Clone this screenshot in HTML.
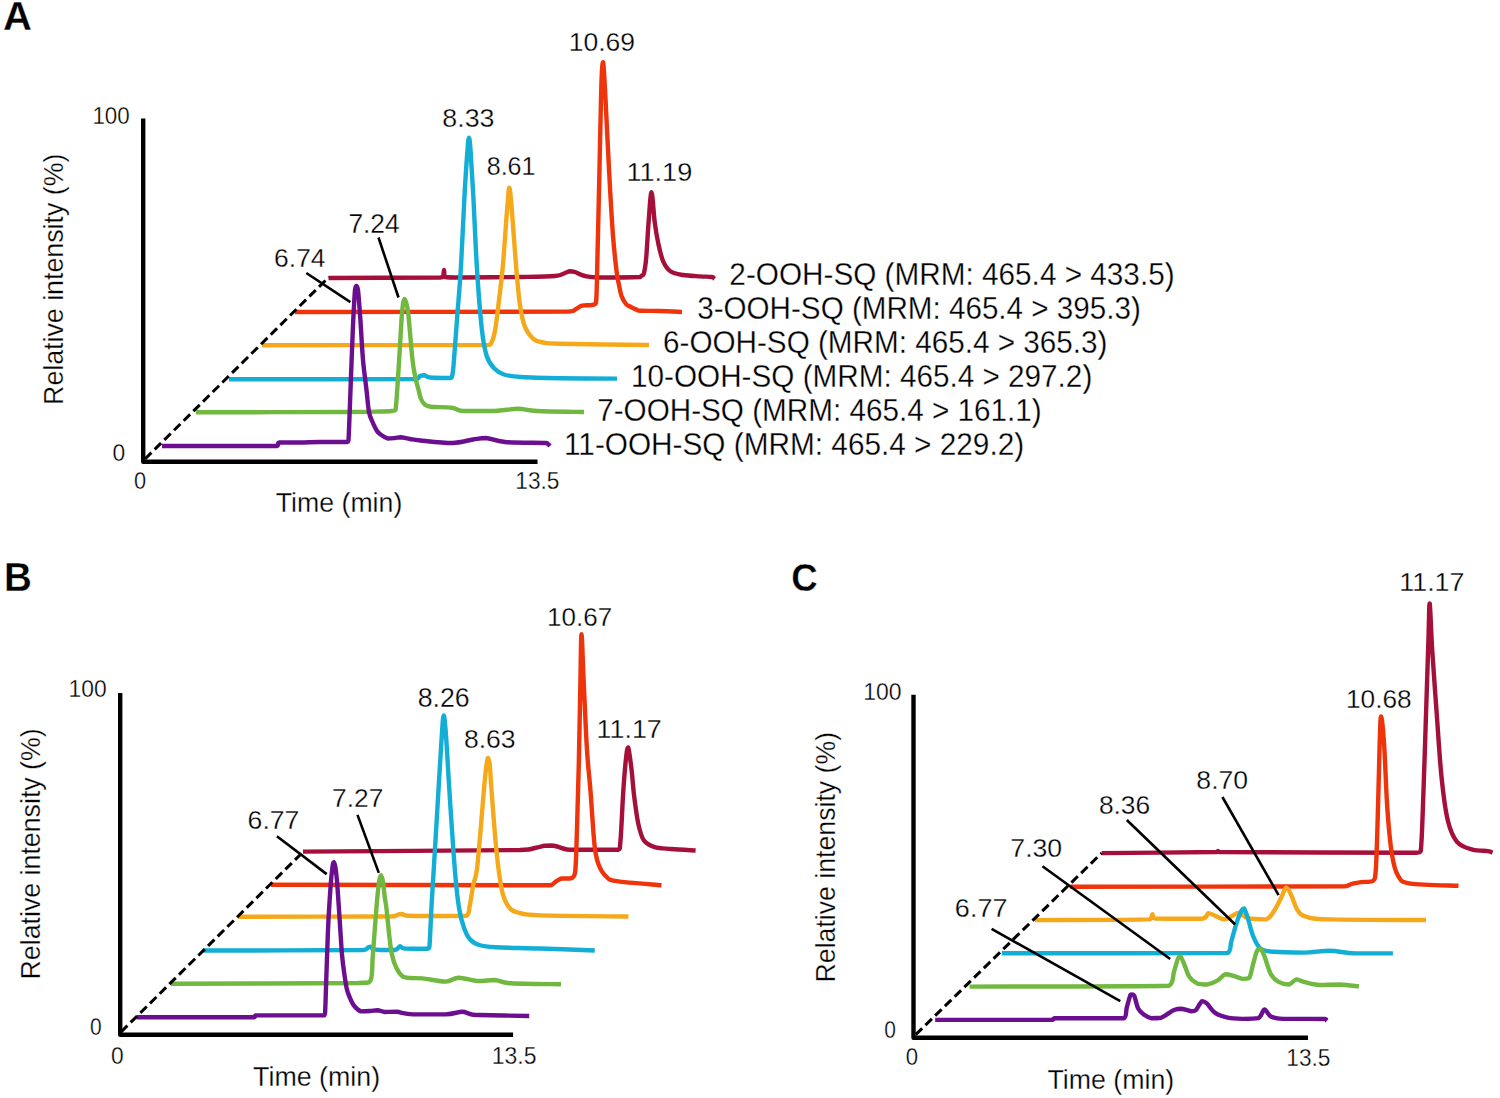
<!DOCTYPE html>
<html><head><meta charset="utf-8"><style>
html,body{margin:0;padding:0;background:#fff;}
svg{display:block;}
text{font-family:"Liberation Sans",sans-serif;stroke:#fff;stroke-width:0.3px;paint-order:fill;}
</style></head><body>
<svg width="1500" height="1098" viewBox="0 0 1500 1098">
<rect width="1500" height="1098" fill="#fff"/>
<text x="3.05" y="29.55" font-size="39.97" textLength="28.96" lengthAdjust="spacingAndGlyphs" font-weight="bold" fill="#000">A</text>
<text x="92.45" y="123.62" font-size="23.45" textLength="37.27" lengthAdjust="spacingAndGlyphs" fill="#000">100</text>
<text x="112.56" y="460.62" font-size="23.45" textLength="12.68" lengthAdjust="spacingAndGlyphs" fill="#000">0</text>
<text x="133.90" y="489.12" font-size="23.45" textLength="12.10" lengthAdjust="spacingAndGlyphs" fill="#000">0</text>
<text x="515.32" y="489.31" font-size="24.15" textLength="44.18" lengthAdjust="spacingAndGlyphs" fill="#000">13.5</text>
<text x="275.76" y="512.17" font-size="27.98" textLength="126.54" lengthAdjust="spacingAndGlyphs" fill="#000">Time (min)</text>
<text transform="translate(63.48 404.95) rotate(-90)" x="0" y="0" font-size="27.25" textLength="251.35" lengthAdjust="spacingAndGlyphs" fill="#000">Relative intensity (%)</text>
<path d="M328.50,278.00 C347.08,277.92 420.92,277.67 440.00,277.50 C443.00,277.33 442.33,277.50 443.00,277.00 C443.67,275.75 443.67,270.00 444.00,270.00 C444.33,270.00 444.00,275.75 445.00,277.00 C447.67,277.50 447.50,277.50 460.00,277.50 C472.50,277.50 504.17,277.25 520.00,277.00 C535.83,276.75 547.50,276.67 555.00,276.00 C562.50,275.33 562.50,273.78 565.00,273.00 C567.50,272.22 568.33,271.47 570.00,271.30 C571.67,271.30 572.50,271.30 575.00,272.00 C577.50,272.78 580.83,275.08 585.00,276.00 C589.17,276.92 590.83,277.33 600.00,277.50 C609.17,277.50 633.13,277.25 640.00,277.00 C641.20,276.75 640.58,276.50 641.20,276.00 C641.82,275.50 642.88,276.00 643.70,274.00 C644.52,271.17 645.28,267.67 646.10,259.00 C646.92,250.33 647.70,233.13 648.60,222.00 C649.50,210.87 650.48,192.20 651.50,192.20 C652.52,192.20 653.55,213.37 654.70,222.00 C655.85,230.63 656.97,237.40 658.40,244.00 C659.83,250.60 661.25,257.02 663.30,261.60 C665.35,266.18 667.42,269.27 670.70,271.50 C673.98,273.73 678.12,274.18 683.00,275.00 C687.88,275.82 695.17,276.07 700.00,276.40 C704.83,276.73 709.58,276.57 712.00,277.00 C714.42,277.43 714.08,278.67 714.50,279.00" fill="none" stroke="#a5103b" stroke-width="4.40" stroke-linejoin="round" stroke-linecap="butt"/>
<path d="M295.00,312.00 C340.50,311.93 521.17,312.00 568.00,311.60 C576.00,311.10 573.67,310.00 576.00,309.00 C578.33,308.00 579.33,306.27 582.00,305.60 C584.67,305.00 589.67,305.43 592.00,305.00 C594.33,304.57 595.10,305.00 596.00,303.00 C596.90,295.33 596.83,280.67 597.40,259.00 C597.97,237.33 598.75,201.67 599.40,173.00 C600.05,144.33 600.68,105.45 601.30,87.00 C601.92,68.55 602.40,62.30 603.10,62.30 C603.80,64.30 604.48,80.55 605.50,99.00 C606.52,117.45 607.97,150.42 609.20,173.00 C610.43,195.58 611.67,218.08 612.90,234.50 C614.13,250.92 615.58,263.08 616.60,271.50 C617.62,279.92 618.18,280.92 619.00,285.00 C619.82,289.08 620.33,292.83 621.50,296.00 C622.67,299.17 624.75,302.33 626.00,304.00 C627.25,305.67 627.33,305.10 629.00,306.00 C630.67,306.90 634.00,308.60 636.00,309.40 C638.00,310.20 637.00,310.53 641.00,310.80 C645.00,311.00 653.17,310.80 660.00,311.00 C666.83,311.20 678.33,311.83 682.00,312.00" fill="none" stroke="#ef330a" stroke-width="4.40" stroke-linejoin="round" stroke-linecap="butt"/>
<path d="M262.00,345.20 C299.67,345.17 449.73,345.20 488.00,345.00 C491.60,344.55 490.38,345.00 491.60,342.50 C492.82,339.83 494.15,335.35 495.30,329.00 C496.45,322.65 497.27,314.65 498.50,304.40 C499.73,294.15 501.38,281.83 502.70,267.50 C504.02,253.17 505.47,230.48 506.40,218.40 C507.33,206.32 507.82,200.13 508.30,195.00 C508.78,189.87 508.93,187.60 509.30,187.60 C509.67,187.60 509.97,189.87 510.50,195.00 C511.03,200.13 511.55,206.32 512.50,218.40 C513.45,230.48 514.97,253.17 516.20,267.50 C517.43,281.83 518.47,294.57 519.90,304.40 C521.33,314.23 522.55,320.77 524.80,326.50 C527.05,332.23 530.32,336.13 533.40,338.80 C536.48,341.47 538.87,341.67 543.30,342.50 C547.73,343.33 543.30,343.38 560.00,343.80 C577.62,344.22 634.17,344.80 649.00,345.00" fill="none" stroke="#f5a91a" stroke-width="4.40" stroke-linejoin="round" stroke-linecap="butt"/>
<path d="M229.00,379.30 C260.17,379.25 384.17,379.30 416.00,379.00 C420.00,378.45 418.57,376.63 420.00,376.00 C421.43,375.37 422.93,375.20 424.60,375.20 C426.27,375.45 425.77,377.03 430.00,377.50 C434.23,377.97 446.37,378.00 450.00,378.00 C451.80,377.92 451.22,378.00 451.80,377.00 C452.38,375.00 452.60,376.05 453.50,366.00 C454.40,355.95 455.97,333.12 457.20,316.70 C458.43,300.28 459.67,287.98 460.90,267.50 C462.13,247.02 463.50,213.38 464.60,193.80 C465.70,174.22 466.77,159.35 467.50,150.00 C468.23,140.65 468.50,137.70 469.00,137.70 C469.50,137.70 469.80,140.65 470.50,150.00 C471.20,159.35 472.13,174.22 473.20,193.80 C474.27,213.38 475.47,244.97 476.90,267.50 C478.33,290.03 480.17,314.25 481.80,329.00 C483.43,343.75 484.65,349.45 486.70,356.00 C488.75,362.55 491.23,365.22 494.10,368.30 C496.97,371.38 499.40,373.05 503.90,374.50 C508.40,375.95 511.75,376.38 521.10,377.00 C530.45,377.62 544.02,377.93 560.00,378.20 C575.98,378.47 607.50,378.53 617.00,378.60" fill="none" stroke="#12aed6" stroke-width="4.40" stroke-linejoin="round" stroke-linecap="butt"/>
<path d="M196.00,412.30 C221.17,412.25 316.33,412.13 347.00,412.00 C377.67,411.87 372.50,411.67 380.00,411.50 C387.50,411.33 389.42,411.25 392.00,411.00 C394.58,410.75 394.42,411.00 395.50,410.00 C396.58,403.17 397.50,385.00 398.50,370.00 C399.50,355.00 400.75,331.00 401.50,320.00 C402.25,309.00 402.50,307.50 403.00,304.00 C403.50,300.50 403.92,299.00 404.50,299.00 C405.08,299.00 405.83,301.17 406.50,304.00 C407.17,306.83 407.50,306.67 408.50,316.00 C409.50,325.33 411.33,349.67 412.50,360.00 C413.67,370.33 414.48,373.00 415.50,378.00 C416.52,383.00 417.68,386.50 418.60,390.00 C419.52,393.50 420.00,396.62 421.00,399.00 C422.00,401.38 422.98,403.02 424.60,404.30 C426.22,405.58 426.13,406.13 430.70,406.70 C435.27,407.27 446.67,406.98 452.00,407.70 C457.33,408.42 455.58,410.45 462.70,411.00 C469.82,411.00 485.48,411.00 494.70,411.00 C503.92,410.63 510.95,408.80 518.00,408.80 C525.05,408.80 526.00,410.47 537.00,411.00 C548.00,411.53 576.17,411.83 584.00,412.00" fill="none" stroke="#70b840" stroke-width="4.40" stroke-linejoin="round" stroke-linecap="butt"/>
<path d="M162.00,446.00 C181.17,446.00 257.50,446.00 277.00,446.00 C279.00,445.42 277.00,443.08 279.00,442.50 C282.83,442.50 293.17,442.50 300.00,442.50 C306.83,442.42 312.17,442.08 320.00,442.00 C327.83,442.00 342.25,442.00 347.00,442.00 C348.50,441.67 347.92,442.00 348.50,440.00 C349.08,431.33 349.78,408.33 350.50,390.00 C351.22,371.67 352.05,346.67 352.80,330.00 C353.55,313.33 354.40,297.33 355.00,290.00 C355.60,286.00 355.90,286.00 356.40,286.00 C356.90,286.00 357.33,286.00 358.00,290.00 C358.67,295.67 359.57,308.33 360.40,320.00 C361.23,331.67 361.98,348.33 363.00,360.00 C364.02,371.67 365.50,381.33 366.50,390.00 C367.50,398.67 368.00,406.67 369.00,412.00 C370.00,417.33 371.17,418.83 372.50,422.00 C373.83,425.17 375.67,428.93 377.00,431.00 C378.33,433.07 378.67,433.15 380.50,434.40 C382.33,435.65 385.58,437.90 388.00,438.50 C390.42,438.50 392.92,438.20 395.00,438.00 C397.08,437.80 398.00,437.30 400.50,437.30 C403.00,437.47 406.67,438.47 410.00,439.00 C413.33,439.53 413.50,439.83 420.50,440.50 C427.50,441.17 443.25,443.00 452.00,443.00 C460.75,442.83 467.33,440.33 473.00,439.50 C478.67,438.67 480.67,438.00 486.00,438.00 C491.33,438.42 495.00,441.17 505.00,442.00 C515.00,442.83 538.83,442.67 546.00,443.00 C548.00,443.33 547.33,443.50 548.00,444.00 C548.67,444.50 549.67,445.67 550.00,446.00" fill="none" stroke="#6b0f90" stroke-width="4.40" stroke-linejoin="round" stroke-linecap="butt"/>
<polyline points="143.20,118.50 143.20,461.80 537.50,461.80" fill="none" stroke="#000" stroke-width="4.40" stroke-linejoin="round"/>
<line x1="145.00" y1="459.00" x2="329.00" y2="277.00" stroke="#000" stroke-width="3.00" stroke-dasharray="9 4.6"/>
<line x1="306.30" y1="273.00" x2="350.40" y2="302.10" stroke="#000" stroke-width="2.60"/>
<line x1="378.50" y1="237.50" x2="398.50" y2="297.50" stroke="#000" stroke-width="2.60"/>
<text x="274.11" y="267.30" font-size="25.71" textLength="51.42" lengthAdjust="spacingAndGlyphs" fill="#000">6.74</text>
<text x="348.40" y="232.55" font-size="26.78" textLength="51.22" lengthAdjust="spacingAndGlyphs" fill="#000">7.24</text>
<text x="442.39" y="127.49" font-size="26.69" textLength="52.04" lengthAdjust="spacingAndGlyphs" fill="#000">8.33</text>
<text x="486.76" y="174.79" font-size="26.13" textLength="48.71" lengthAdjust="spacingAndGlyphs" fill="#000">8.61</text>
<text x="568.73" y="50.59" font-size="26.27" textLength="66.38" lengthAdjust="spacingAndGlyphs" fill="#000">10.69</text>
<text x="626.45" y="181.19" font-size="26.13" textLength="65.85" lengthAdjust="spacingAndGlyphs" fill="#000">11.19</text>
<text x="729.35" y="285.38" font-size="32.05" textLength="445.24" lengthAdjust="spacingAndGlyphs" fill="#000">2-OOH-SQ (MRM: 465.4 &gt; 433.5)</text>
<text x="697.22" y="319.21" font-size="32.05" textLength="443.56" lengthAdjust="spacingAndGlyphs" fill="#000">3-OOH-SQ (MRM: 465.4 &gt; 395.3)</text>
<text x="663.04" y="353.06" font-size="32.05" textLength="444.35" lengthAdjust="spacingAndGlyphs" fill="#000">6-OOH-SQ (MRM: 465.4 &gt; 365.3)</text>
<text x="631.09" y="386.90" font-size="32.05" textLength="461.20" lengthAdjust="spacingAndGlyphs" fill="#000">10-OOH-SQ (MRM: 465.4 &gt; 297.2)</text>
<text x="597.23" y="420.74" font-size="32.05" textLength="444.36" lengthAdjust="spacingAndGlyphs" fill="#000">7-OOH-SQ (MRM: 465.4 &gt; 161.1)</text>
<text x="563.99" y="454.57" font-size="32.05" textLength="460.19" lengthAdjust="spacingAndGlyphs" fill="#000">11-OOH-SQ (MRM: 465.4 &gt; 229.2)</text>
<text x="3.97" y="591.45" font-size="40.70" textLength="27.83" lengthAdjust="spacingAndGlyphs" font-weight="bold" fill="#000">B</text>
<text x="68.51" y="696.82" font-size="24.01" textLength="38.13" lengthAdjust="spacingAndGlyphs" fill="#000">100</text>
<text x="90.03" y="1035.02" font-size="23.45" textLength="11.63" lengthAdjust="spacingAndGlyphs" fill="#000">0</text>
<text x="110.96" y="1063.72" font-size="23.45" textLength="12.68" lengthAdjust="spacingAndGlyphs" fill="#000">0</text>
<text x="491.80" y="1063.82" font-size="23.87" textLength="44.71" lengthAdjust="spacingAndGlyphs" fill="#000">13.5</text>
<text x="253.05" y="1086.47" font-size="27.98" textLength="127.05" lengthAdjust="spacingAndGlyphs" fill="#000">Time (min)</text>
<text transform="translate(39.77 979.44) rotate(-90)" x="0" y="0" font-size="27.25" textLength="251.15" lengthAdjust="spacingAndGlyphs" fill="#000">Relative intensity (%)</text>
<path d="M303.00,851.60 C339.17,851.33 481.33,850.60 520.00,850.00 C535.00,849.40 530.83,848.72 535.00,848.00 C539.17,847.28 542.33,846.12 545.00,845.70 C547.67,845.50 549.00,845.50 551.00,845.50 C553.00,845.63 554.67,845.92 557.00,846.50 C559.33,847.08 562.33,848.45 565.00,849.00 C567.67,849.55 565.00,849.67 573.00,849.80 C581.83,849.80 610.08,849.80 618.00,849.80 C620.50,848.22 619.62,849.80 620.50,840.30 C621.38,830.52 622.38,804.75 623.30,791.10 C624.22,777.45 625.18,765.68 626.00,758.40 C626.82,751.12 627.28,747.40 628.20,747.40 C629.12,749.22 630.50,761.10 631.50,769.30 C632.50,777.50 633.07,787.50 634.20,796.60 C635.33,805.70 636.70,816.62 638.30,823.90 C639.90,831.18 641.07,836.43 643.80,840.30 C646.53,844.17 650.15,845.65 654.70,847.10 C659.25,848.55 664.28,848.43 671.10,849.00 C677.92,849.57 691.52,850.25 695.60,850.50" fill="none" stroke="#a5103b" stroke-width="4.40" stroke-linejoin="round" stroke-linecap="butt"/>
<path d="M271.00,884.70 C316.83,884.80 499.35,885.20 546.00,885.30 C550.90,885.30 549.17,885.30 550.90,885.30 C552.63,884.62 554.58,882.33 556.40,881.20 C558.22,880.07 559.53,878.95 561.80,878.50 C564.07,878.50 567.80,878.50 570.00,878.50 C572.20,877.58 573.85,878.50 575.00,873.00 C576.15,865.27 576.27,850.30 576.90,832.10 C577.53,813.90 578.22,788.83 578.80,763.80 C579.38,738.77 579.95,703.52 580.40,681.90 C580.85,660.28 580.95,634.10 581.50,634.10 C582.05,634.10 582.78,662.55 583.70,681.90 C584.62,701.25 585.87,732.00 587.00,750.20 C588.13,768.40 589.23,775.18 590.50,791.10 C591.77,807.02 593.23,833.42 594.60,845.70 C595.97,857.98 596.88,859.78 598.70,864.80 C600.52,869.82 602.53,873.07 605.50,875.80 C608.47,878.53 607.17,879.62 616.50,881.20 C625.83,882.78 654.00,884.62 661.50,885.30" fill="none" stroke="#ef330a" stroke-width="4.40" stroke-linejoin="round" stroke-linecap="butt"/>
<path d="M237.90,916.70 C262.92,916.67 361.82,916.62 388.00,916.50 C395.00,916.38 393.33,916.33 395.00,916.00 C396.67,915.67 396.83,914.83 398.00,914.50 C399.17,914.17 400.67,914.00 402.00,914.00 C403.33,914.17 403.00,915.17 406.00,915.50 C409.00,915.83 409.97,915.93 420.00,916.00 C430.03,916.00 457.92,916.00 466.20,915.90 C469.70,914.22 468.52,911.12 469.70,905.90 C470.88,900.68 472.12,890.52 473.30,884.60 C474.48,878.68 475.62,879.08 476.80,870.40 C477.98,861.72 479.22,845.92 480.40,832.50 C481.58,819.08 482.88,801.15 483.90,789.90 C484.92,778.65 485.78,770.32 486.50,765.00 C487.22,759.68 487.65,758.00 488.20,758.00 C488.75,758.00 489.33,760.87 489.80,765.00 C490.27,769.13 490.20,771.93 491.00,782.80 C491.80,793.67 493.42,816.38 494.60,830.20 C495.78,844.02 496.73,855.05 498.10,865.70 C499.47,876.35 500.83,887.00 502.80,894.10 C504.77,901.20 507.13,905.15 509.90,908.30 C512.67,911.45 514.38,911.82 519.40,913.00 C524.42,914.18 521.82,914.82 540.00,915.40 C558.18,915.98 613.75,916.32 628.50,916.50" fill="none" stroke="#f5a91a" stroke-width="4.40" stroke-linejoin="round" stroke-linecap="butt"/>
<path d="M203.50,950.50 C230.15,950.42 335.98,950.50 363.40,950.00 C368.00,949.50 366.82,948.03 368.00,947.50 C369.18,946.97 369.67,946.80 370.50,946.80 C371.33,947.05 371.42,948.47 373.00,949.00 C374.58,949.53 376.33,949.83 380.00,950.00 C383.67,950.00 391.65,950.00 395.00,950.00 C398.35,949.38 398.43,946.55 400.10,946.30 C401.77,946.30 400.35,948.10 405.00,948.50 C409.65,948.70 423.92,948.70 428.00,948.70 C429.50,948.28 428.87,948.70 429.50,946.00 C430.13,938.08 430.82,918.53 431.80,901.20 C432.78,883.87 434.22,861.73 435.40,842.00 C436.58,822.27 437.83,800.55 438.90,782.80 C439.97,765.05 441.00,746.73 441.80,735.50 C442.60,724.27 443.00,715.40 443.70,715.40 C444.40,715.40 445.13,724.27 446.00,735.50 C446.87,746.73 447.90,767.02 448.90,782.80 C449.90,798.58 450.90,814.42 452.00,830.20 C453.10,845.98 454.32,864.48 455.50,877.50 C456.68,890.52 457.72,900.02 459.10,908.30 C460.48,916.58 462.03,922.08 463.80,927.20 C465.57,932.32 467.13,936.03 469.70,939.00 C472.27,941.97 474.87,943.62 479.20,945.00 C483.53,946.38 485.57,946.72 495.70,947.30 C505.83,947.88 523.48,947.97 540.00,948.50 C556.52,949.03 585.67,950.17 594.80,950.50" fill="none" stroke="#12aed6" stroke-width="4.40" stroke-linejoin="round" stroke-linecap="butt"/>
<path d="M171.00,983.70 C202.27,983.58 325.35,983.52 358.60,983.00 C370.50,982.48 368.13,983.00 370.50,980.60 C372.80,976.07 371.82,967.83 372.80,955.80 C373.78,943.77 375.37,920.70 376.40,908.40 C377.43,896.10 378.22,887.53 379.00,882.00 C379.78,876.47 380.43,875.20 381.10,875.20 C381.77,875.20 382.40,878.43 383.00,882.00 C383.60,885.57 384.10,892.02 384.70,896.60 C385.30,901.18 385.82,902.80 386.60,909.50 C387.38,916.20 388.50,929.22 389.40,936.80 C390.30,944.38 390.83,949.80 392.00,955.00 C393.17,960.20 394.57,964.38 396.40,968.00 C398.23,971.62 400.73,975.03 403.00,976.70 C405.27,978.00 406.73,977.72 410.00,978.00 C413.27,978.28 416.67,978.00 422.60,978.40 C428.53,979.00 439.58,981.60 445.60,981.60 C451.62,981.48 453.23,977.80 458.70,977.70 C464.17,977.70 472.38,980.62 478.40,981.00 C484.42,981.00 489.35,980.00 494.80,980.00 C500.25,980.38 500.07,982.58 511.10,983.30 C522.13,984.02 552.68,984.13 561.00,984.30" fill="none" stroke="#70b840" stroke-width="4.40" stroke-linejoin="round" stroke-linecap="butt"/>
<path d="M136.50,1017.30 C156.08,1017.30 234.08,1017.30 254.00,1017.30 C256.00,1016.98 254.00,1015.72 256.00,1015.40 C267.72,1015.40 312.72,1015.40 324.30,1015.40 C325.50,1013.33 324.90,1015.40 325.50,1003.00 C326.10,989.10 327.03,951.72 327.90,932.00 C328.77,912.28 329.93,895.53 330.70,884.70 C331.47,873.87 331.98,870.75 332.50,867.00 C333.02,863.25 333.30,862.20 333.80,862.20 C334.30,862.37 334.92,864.25 335.50,868.00 C336.08,871.75 336.55,875.20 337.30,884.70 C338.05,894.20 339.20,913.15 340.00,925.00 C340.80,936.85 341.35,947.47 342.10,955.80 C342.85,964.13 343.72,969.48 344.50,975.00 C345.28,980.52 345.88,985.07 346.80,988.90 C347.72,992.73 348.82,995.23 350.00,998.00 C351.18,1000.77 352.07,1003.27 353.90,1005.50 C355.73,1007.73 358.32,1010.48 361.00,1011.40 C363.68,1011.40 367.23,1011.20 370.00,1011.00 C372.77,1010.80 375.10,1010.20 377.60,1010.20 C380.10,1010.37 381.87,1011.73 385.00,1012.00 C388.13,1012.00 391.77,1011.80 396.40,1011.80 C401.03,1012.20 404.60,1013.97 412.80,1014.40 C421.00,1014.40 437.40,1014.40 445.60,1014.40 C453.80,1013.97 457.93,1011.87 462.00,1011.80 C466.07,1011.80 467.27,1013.47 470.00,1014.00 C472.73,1014.53 470.00,1014.67 478.40,1015.00 C488.27,1015.33 520.73,1015.83 529.20,1016.00" fill="none" stroke="#6b0f90" stroke-width="4.40" stroke-linejoin="round" stroke-linecap="butt"/>
<polyline points="120.20,693.10 120.20,1034.70 513.10,1034.70" fill="none" stroke="#000" stroke-width="4.40" stroke-linejoin="round"/>
<line x1="121.00" y1="1032.00" x2="303.00" y2="852.00" stroke="#000" stroke-width="3.00" stroke-dasharray="9 4.6"/>
<line x1="276.90" y1="836.20" x2="326.70" y2="874.10" stroke="#000" stroke-width="2.60"/>
<line x1="357.50" y1="814.90" x2="378.80" y2="872.90" stroke="#000" stroke-width="2.60"/>
<text x="247.60" y="828.80" font-size="25.56" textLength="51.79" lengthAdjust="spacingAndGlyphs" fill="#000">6.77</text>
<text x="332.10" y="807.05" font-size="25.92" textLength="51.28" lengthAdjust="spacingAndGlyphs" fill="#000">7.27</text>
<text x="417.69" y="706.78" font-size="27.26" textLength="52.04" lengthAdjust="spacingAndGlyphs" fill="#000">8.26</text>
<text x="463.90" y="748.19" font-size="26.69" textLength="51.72" lengthAdjust="spacingAndGlyphs" fill="#000">8.63</text>
<text x="547.07" y="626.40" font-size="25.85" textLength="65.09" lengthAdjust="spacingAndGlyphs" fill="#000">10.67</text>
<text x="596.57" y="738.25" font-size="25.58" textLength="65.19" lengthAdjust="spacingAndGlyphs" fill="#000">11.17</text>
<text x="791.35" y="591.17" font-size="38.84" textLength="26.40" lengthAdjust="spacingAndGlyphs" font-weight="bold" fill="#000">C</text>
<text x="863.20" y="700.12" font-size="23.87" textLength="38.24" lengthAdjust="spacingAndGlyphs" fill="#000">100</text>
<text x="884.23" y="1038.02" font-size="23.45" textLength="11.63" lengthAdjust="spacingAndGlyphs" fill="#000">0</text>
<text x="905.68" y="1065.02" font-size="23.30" textLength="12.33" lengthAdjust="spacingAndGlyphs" fill="#000">0</text>
<text x="1286.32" y="1065.82" font-size="23.45" textLength="44.18" lengthAdjust="spacingAndGlyphs" fill="#000">13.5</text>
<text x="1047.45" y="1088.67" font-size="27.98" textLength="126.74" lengthAdjust="spacingAndGlyphs" fill="#000">Time (min)</text>
<text transform="translate(834.67 982.44) rotate(-90)" x="0" y="0" font-size="27.25" textLength="250.54" lengthAdjust="spacingAndGlyphs" fill="#000">Relative intensity (%)</text>
<path d="M1101.60,853.10 C1120.83,852.92 1197.60,852.35 1217.00,852.00 C1218.00,851.65 1217.67,851.00 1218.00,851.00 C1218.33,851.00 1218.00,851.72 1219.00,852.00 C1252.12,852.28 1383.08,852.70 1416.70,852.70 C1420.70,852.55 1419.67,852.70 1420.70,851.10 C1421.73,843.62 1422.02,830.52 1422.90,807.80 C1423.78,785.08 1425.07,743.20 1426.00,714.80 C1426.93,686.40 1427.88,655.97 1428.50,637.40 C1429.12,618.83 1429.08,603.40 1429.70,603.40 C1430.32,605.47 1431.02,631.23 1432.20,649.80 C1433.38,668.37 1435.25,693.63 1436.80,714.80 C1438.35,735.97 1439.68,759.25 1441.50,776.80 C1443.32,794.35 1445.12,809.27 1447.70,820.10 C1450.28,830.93 1452.87,836.88 1457.00,841.80 C1461.13,846.72 1467.33,848.05 1472.50,849.60 C1477.67,851.10 1484.65,850.58 1488.00,851.10 C1491.35,851.62 1491.83,852.43 1492.60,852.70" fill="none" stroke="#a5103b" stroke-width="4.40" stroke-linejoin="round" stroke-linecap="butt"/>
<path d="M1070.30,886.80 C1116.07,886.72 1298.52,886.57 1344.90,886.30 C1348.60,886.03 1347.32,885.63 1348.60,885.20 C1349.88,884.77 1350.53,884.22 1352.60,883.70 C1354.67,883.18 1357.70,882.52 1361.00,882.10 C1364.30,881.68 1369.93,882.10 1372.40,881.20 C1374.87,879.13 1374.87,881.20 1375.80,869.70 C1376.73,857.47 1377.37,828.45 1378.00,807.80 C1378.63,787.15 1379.08,761.03 1379.60,745.80 C1380.12,730.57 1380.33,716.40 1381.10,716.40 C1381.87,716.40 1383.17,730.57 1384.20,745.80 C1385.23,761.03 1386.02,789.73 1387.30,807.80 C1388.58,825.87 1390.10,842.85 1391.90,854.20 C1393.70,865.55 1395.00,871.00 1398.10,875.90 C1401.20,880.80 1400.43,881.95 1410.50,883.60 C1420.57,885.25 1450.50,885.43 1458.50,885.80" fill="none" stroke="#ef330a" stroke-width="4.40" stroke-linejoin="round" stroke-linecap="butt"/>
<path d="M1035.10,920.10 C1054.20,919.98 1130.17,920.10 1149.70,919.40 C1152.30,918.43 1151.45,914.45 1152.30,914.30 C1153.15,914.30 1152.30,917.77 1154.80,918.50 C1163.08,918.70 1193.07,918.70 1202.00,918.70 C1208.40,917.80 1206.27,913.62 1208.40,913.10 C1210.53,913.10 1212.03,914.55 1214.80,915.60 C1217.57,916.65 1222.02,919.40 1225.00,919.40 C1227.98,919.40 1230.37,916.73 1232.70,915.60 C1235.03,914.47 1236.45,912.60 1239.00,912.60 C1241.55,913.03 1243.53,917.07 1248.00,918.20 C1252.47,919.33 1261.55,919.40 1265.80,919.40 C1270.05,918.33 1270.95,915.40 1273.50,911.80 C1276.05,908.20 1278.98,901.83 1281.10,897.80 C1283.22,893.77 1284.50,888.03 1286.20,887.60 C1287.90,887.60 1289.38,891.38 1291.30,895.20 C1293.22,899.02 1295.15,906.88 1297.70,910.50 C1300.25,914.12 1301.28,915.42 1306.60,916.90 C1311.92,918.38 1309.70,918.88 1329.60,919.40 C1349.50,919.92 1409.93,919.90 1426.00,920.00" fill="none" stroke="#f5a91a" stroke-width="4.40" stroke-linejoin="round" stroke-linecap="butt"/>
<path d="M1001.80,953.30 C1039.43,953.27 1189.33,953.30 1227.60,953.10 C1231.40,951.07 1229.92,946.07 1231.40,941.10 C1232.88,936.13 1234.80,928.40 1236.50,923.30 C1238.20,918.20 1240.33,912.97 1241.60,910.50 C1242.87,908.50 1243.05,908.50 1244.10,908.50 C1245.15,909.78 1246.40,913.62 1247.90,918.20 C1249.40,922.78 1250.97,930.90 1253.10,936.00 C1255.23,941.10 1257.30,946.17 1260.70,948.80 C1264.10,951.43 1266.27,951.17 1273.50,951.80 C1280.73,952.43 1294.75,952.60 1304.10,952.60 C1313.45,952.43 1321.10,950.80 1329.60,950.80 C1338.10,950.93 1344.55,952.97 1355.10,953.40 C1365.65,953.40 1386.60,953.40 1392.90,953.40" fill="none" stroke="#12aed6" stroke-width="4.40" stroke-linejoin="round" stroke-linecap="butt"/>
<path d="M969.50,986.60 C1002.73,986.47 1134.82,986.60 1168.90,985.80 C1174.00,983.32 1172.52,976.17 1174.00,971.70 C1175.48,967.23 1176.73,961.55 1177.80,959.00 C1178.87,956.45 1179.33,956.40 1180.40,956.40 C1181.47,957.25 1182.72,960.70 1184.20,964.10 C1185.68,967.50 1187.18,973.62 1189.30,976.80 C1191.42,979.98 1193.93,981.92 1196.90,983.20 C1199.87,984.48 1203.70,984.50 1207.10,984.50 C1210.50,984.08 1214.32,982.40 1217.30,980.70 C1220.28,979.00 1222.43,975.15 1225.00,974.30 C1227.57,974.30 1229.72,974.83 1232.70,975.60 C1235.68,976.37 1240.15,978.48 1242.90,978.90 C1245.65,978.90 1247.50,978.90 1249.20,978.10 C1250.90,975.63 1251.82,968.57 1253.10,964.10 C1254.38,959.63 1255.63,953.85 1256.90,951.30 C1258.17,948.80 1259.43,948.80 1260.70,948.80 C1261.97,949.65 1262.80,952.15 1264.50,956.40 C1266.20,960.65 1268.55,970.05 1270.90,974.30 C1273.25,978.55 1275.62,980.20 1278.60,981.90 C1281.58,983.60 1285.83,984.50 1288.80,984.50 C1291.77,984.08 1293.85,979.83 1296.40,979.40 C1298.95,979.40 1300.27,980.97 1304.10,981.90 C1307.93,982.83 1313.45,984.57 1319.40,985.00 C1325.35,985.00 1333.22,984.50 1339.80,984.50 C1346.38,984.75 1355.72,986.17 1358.90,986.50" fill="none" stroke="#70b840" stroke-width="4.40" stroke-linejoin="round" stroke-linecap="butt"/>
<path d="M935.20,1019.90 C954.78,1019.90 1032.90,1019.90 1052.70,1019.90 C1054.00,1019.63 1052.70,1018.58 1054.00,1018.30 C1065.92,1018.20 1112.07,1018.30 1124.20,1018.20 C1126.80,1016.38 1125.73,1011.32 1126.80,1007.40 C1127.87,1003.48 1129.63,996.85 1130.60,994.70 C1131.57,994.50 1131.97,994.50 1132.60,994.50 C1133.23,994.72 1133.45,994.50 1134.40,996.00 C1135.35,998.37 1136.60,1005.52 1138.30,1008.70 C1140.00,1011.88 1142.48,1013.52 1144.60,1015.10 C1146.72,1016.68 1148.23,1017.77 1151.00,1018.20 C1153.77,1018.20 1157.37,1018.20 1161.20,1017.70 C1165.03,1016.33 1170.60,1011.50 1174.00,1010.00 C1177.40,1008.70 1178.63,1008.70 1181.60,1008.70 C1184.57,1008.92 1189.40,1011.08 1191.80,1011.30 C1194.20,1011.30 1194.30,1011.30 1196.00,1010.00 C1197.70,1008.30 1200.15,1002.17 1202.00,1001.10 C1203.85,1001.10 1204.97,1001.68 1207.10,1003.60 C1209.23,1005.52 1211.38,1010.25 1214.80,1012.60 C1218.22,1014.95 1222.92,1016.65 1227.60,1017.70 C1232.28,1018.75 1237.80,1018.82 1242.90,1018.90 C1248.00,1018.90 1254.60,1018.90 1258.20,1018.20 C1261.80,1016.63 1262.38,1009.80 1264.50,1009.50 C1266.62,1009.50 1267.70,1014.83 1270.90,1016.40 C1274.10,1017.97 1278.17,1018.48 1283.70,1018.90 C1289.23,1018.90 1297.22,1018.90 1304.10,1018.90 C1310.98,1018.92 1321.18,1018.90 1325.00,1019.00 C1327.00,1019.30 1326.67,1020.42 1327.00,1020.70" fill="none" stroke="#6b0f90" stroke-width="4.40" stroke-linejoin="round" stroke-linecap="butt"/>
<polyline points="913.50,694.80 913.50,1037.70 1308.00,1037.70" fill="none" stroke="#000" stroke-width="4.40" stroke-linejoin="round"/>
<line x1="915.70" y1="1034.60" x2="1101.60" y2="853.10" stroke="#000" stroke-width="3.00" stroke-dasharray="9 4.6"/>
<line x1="991.60" y1="928.90" x2="1120.30" y2="1001.20" stroke="#000" stroke-width="2.60"/>
<line x1="1042.50" y1="866.20" x2="1170.20" y2="959.00" stroke="#000" stroke-width="2.60"/>
<line x1="1126.80" y1="820.00" x2="1235.20" y2="924.50" stroke="#000" stroke-width="2.60"/>
<line x1="1222.40" y1="797.00" x2="1278.60" y2="895.20" stroke="#000" stroke-width="2.60"/>
<text x="954.88" y="917.29" font-size="26.27" textLength="52.53" lengthAdjust="spacingAndGlyphs" fill="#000">6.77</text>
<text x="1010.39" y="856.59" font-size="26.27" textLength="51.80" lengthAdjust="spacingAndGlyphs" fill="#000">7.30</text>
<text x="1098.90" y="813.69" font-size="26.69" textLength="51.30" lengthAdjust="spacingAndGlyphs" fill="#000">8.36</text>
<text x="1196.39" y="789.30" font-size="25.85" textLength="51.80" lengthAdjust="spacingAndGlyphs" fill="#000">8.70</text>
<text x="1345.95" y="707.70" font-size="25.71" textLength="65.74" lengthAdjust="spacingAndGlyphs" fill="#000">10.68</text>
<text x="1399.27" y="590.55" font-size="26.60" textLength="65.19" lengthAdjust="spacingAndGlyphs" fill="#000">11.17</text>
</svg>
</body></html>
